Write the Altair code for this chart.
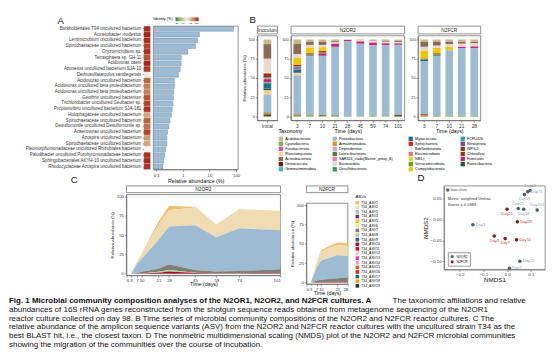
import altair as alt
import pandas as pd

FONT = "Liberation Sans"

# ---------------- Panel A data ----------------
a_names = [
    "Burkholderiales T34 uncultured bacterium",
    "Acinetobacter modestus",
    "Lentimicrobium uncultured bacterium",
    "Spirochaetaceae uncultured bacterium",
    "Oryzomicrobium sp.",
    "Tetrasphaera sp. GH-11",
    "Acidovorax caeni",
    "Azonexus uncultured bacterium SJA-10",
    "Dethiosulfatarculus sandiegensis",
    "Acidovorax uncultured bacterium",
    "Acidovorax uncultured beta proteobacterium",
    "Acidovorax uncultured beta proteobacterium",
    "Geothrix uncultured bacterium",
    "Trichlorobacter uncultured Geobacter sp.",
    "Propionivibrio uncultured bacterium SJA-181",
    "Holophagaceae uncultured bacterium",
    "Spirochaetaceae uncultured bacterium",
    "Desulfomonile uncultured Desulfomonile sp.",
    "Anaerovorax uncultured bacterium",
    "Azospira uncultured bacterium",
    "Spirochaetaceae uncultured bacterium",
    "Pleomorphomonadaceae uncultured Rhizobiales bacterium",
    "Paludibacter uncultured Porphyromonadaceae bacterium",
    "Sphingobacteriales AKYH-10 uncultured bacterium",
    "Rhodocyclaceae Azospira uncultured bacterium",
]
a_abund = [80, 4.2, 3.6, 3.0, 1.55, 0.87, 0.86, 0.8, 0.68, 0.48, 0.48, 0.46, 0.44,
           0.43, 0.40, 0.37, 0.33, 0.30, 0.27, 0.25, 0.25, 0.23, 0.21, 0.19, 0.18]
a_ident = [99.6, 99.8, 99.5, 99.0, 99.6, 98.5, 99.8, 99.3, 92.0, 98.0, 97.0, 97.0, 98.5,
           99.0, 99.5, 95.5, 98.0, 97.5, 99.0, 96.0, 95.5, 92.5, 99.5, 99.7, 99.5]

# ---------------- Panel B data ----------------
taxa = ["Acidobacteriota", "Actinobacteriota", "Armatimonadota", "Bacteroidota",
        "Bdellovibrionota", "Campylobacterota", "Chloroflexi", "Cyanobacteria",
        "Deinococcota", "Dependentiae", "Desulfobacterota", "Elusimicrobiota",
        "FCPU426", "Firmicutes", "Fusobacteriota", "Gemmatimonadota",
        "Latescibacterota", "Myxococcota", "NB1-j", "Nitrospirota", "Patescibacteria",
        "Planctomycetota", "Proteobacteria", "SAR324_clade(Marine_group_B)",
        "Spirochaetota", "Verrucomicrobiota", "WPS-2"]
taxa_colors = ["#c8b98c", "#8b6a58", "#e8901c", "#e9d8cc", "#e6efe9", "#f2c40c",
               "#a5311b", "#7cb342", "#6b1d24", "#c9a6d6", "#2e9d59", "#e8786f",
               "#2fa39a", "#d0217a", "#d94fa8", "#44b4e3", "#4f7f34", "#1c6e8c",
               "#d9d92a", "#7b3f98", "#1f5e38", "#f5cf97", "#9dbcd3", "#e57fae",
               "#e3211f", "#6f9a2a", "#6b4a1c"]

inoc_samples = ["Initial"]
inoc_values = [
    {"Acidobacteriota": 6, "Actinobacteriota": 19, "Bacteroidota": 18, "Bdellovibrionota": 1,
     "Chloroflexi": 5, "Desulfobacterota": 1, "Elusimicrobiota": 1, "FCPU426": 0.5,
     "Firmicutes": 4, "Gemmatimonadota": 1, "Latescibacterota": 1, "Myxococcota": 6,
     "Nitrospirota": 0.5, "Patescibacteria": 2, "Planctomycetota": 6, "Proteobacteria": 23,
     "Spirochaetota": 1, "Verrucomicrobiota": 2, "WPS-2": 2},
]
n2or2_days = ["3", "7", "10", "21", "28", "45", "59", "74", "101"]
n2or2_values = [
    {"Acidobacteriota": 5.5, "Actinobacteriota": 13.5, "Bacteroidota": 5, "Campylobacterota": 9,
     "Chloroflexi": 1.5, "Cyanobacteria": 0.5, "Desulfobacterota": 1, "Firmicutes": 2,
     "Gemmatimonadota": 1, "Myxococcota": 4, "Nitrospirota": 0.5, "Planctomycetota": 3,
     "Proteobacteria": 51, "Spirochaetota": 1, "Verrucomicrobiota": 1.5},
    {"Acidobacteriota": 3, "Actinobacteriota": 4, "Bacteroidota": 3.5, "Campylobacterota": 7.5,
     "Chloroflexi": 1.5, "Desulfobacterota": 1, "Latescibacterota": 1, "Proteobacteria": 77,
     "Verrucomicrobiota": 1.5},
    {"Acidobacteriota": 3, "Actinobacteriota": 4, "Bacteroidota": 3, "Campylobacterota": 5,
     "Chloroflexi": 2, "Desulfobacterota": 1, "Firmicutes": 3, "Latescibacterota": 1,
     "Proteobacteria": 76, "Verrucomicrobiota": 2},
    {"Acidobacteriota": 2, "Actinobacteriota": 1.5, "Bacteroidota": 2, "Firmicutes": 4,
     "Proteobacteria": 89, "Spirochaetota": 0.5, "Verrucomicrobiota": 1},
    {"Acidobacteriota": 0.5, "Firmicutes": 1.5, "Proteobacteria": 97.5, "Verrucomicrobiota": 0.5},
    {"Acidobacteriota": 1, "Bacteroidota": 1.5, "Firmicutes": 3, "Proteobacteria": 94,
     "Verrucomicrobiota": 0.5},
    {"Acidobacteriota": 2, "Bacteroidota": 2, "Firmicutes": 3.5, "Proteobacteria": 91.5,
     "Verrucomicrobiota": 1},
    {"Acidobacteriota": 2, "Actinobacteriota": 1, "Bacteroidota": 2, "Firmicutes": 2.5,
     "Proteobacteria": 92, "Verrucomicrobiota": 0.5},
    {"Acidobacteriota": 2, "Actinobacteriota": 1.5, "Bacteroidota": 1.5, "Firmicutes": 1.5,
     "Nitrospirota": 1, "Proteobacteria": 90.5, "WPS-2": 2},
]
n2fcr_days = ["3", "7", "10", "21", "28"]
n2fcr_values = [
    {"Acidobacteriota": 3, "Actinobacteriota": 6.5, "Bacteroidota": 5, "Campylobacterota": 10.5,
     "Chloroflexi": 1, "Desulfobacterota": 0.5, "Myxococcota": 2, "Proteobacteria": 68.5,
     "Spirochaetota": 1.5, "Verrucomicrobiota": 1.5},
    {"Acidobacteriota": 3, "Actinobacteriota": 5, "Bacteroidota": 3, "Campylobacterota": 7,
     "Chloroflexi": 1.5, "Desulfobacterota": 1.5, "Latescibacterota": 1, "Proteobacteria": 77,
     "Verrucomicrobiota": 1},
    {"Acidobacteriota": 3, "Actinobacteriota": 3, "Bacteroidota": 3.5, "Campylobacterota": 4.5,
     "Proteobacteria": 85, "Verrucomicrobiota": 1},
    {"Acidobacteriota": 3, "Actinobacteriota": 2.5, "Bacteroidota": 4, "Firmicutes": 1.5,
     "Proteobacteria": 88, "Verrucomicrobiota": 1},
    {"Acidobacteriota": 3, "Actinobacteriota": 2, "Bacteroidota": 4, "Firmicutes": 2.5,
     "Proteobacteria": 87.5, "Verrucomicrobiota": 1},
]

# ---------------- Panel C data ----------------
asvs = ["T34_ASV%d" % i for i in range(1, 20)]
asv_colors = ["#f2bf6c", "#efdcb2", "#9dbcd3", "#7b2a8a", "#f0c419", "#f3e38a", "#7f7f72",
              "#9fd3a8", "#3f4fa0", "#a3122a", "#c2143e", "#f4c7c0", "#e0449f", "#f0a3c4",
              "#d8692a", "#d12a2a", "#1d6d5e", "#e69a1e", "#1b3850"]
c_or2_days = [0, 3, 7, 10, 21, 28, 45, 59, 74, 101]
c_or2_values = {
    "T34_ASV1": [0, 0, 0, 0.5, 4, 5.5, 1, 0, 0, 0],
    "T34_ASV2": [0, 0, 3, 6, 20, 21, 23, 16.5, 25, 25.5],
    "T34_ASV3": [0, 0, 12, 17, 37, 49.5, 58, 44.5, 55.5, 50.5],
    "T34_ASV7": [0, 0, 1, 2, 4, 7, 3.5, 2.5, 3, 5],
    "T34_ASV8": [0, 0, 0, 0, 1, 2, 0.5, 0, 0, 0],
    "T34_ASV10": [0, 0, 0, 0.5, 1.5, 3, 1, 0.5, 0.5, 0.5],
    "T34_ASV13": [0, 0, 0, 0, 0, 0, 0, 0, 0, 0.5],
}
c_fcr_days = [0, 3, 7, 10, 21, 28]
c_fcr_values = {
    "T34_ASV1": [0, 0, 1, 1.5, 3.5, 3.5],
    "T34_ASV2": [0, 0, 6, 12, 13, 13],
    "T34_ASV3": [0, 0, 17, 25, 30, 28],
    "T34_ASV7": [0, 0, 2, 3, 4.5, 5.5],
    "T34_ASV10": [0, 0, 0.5, 0.5, 1, 1],
}

# ---------------- Panel D data ----------------
d_label = ["Inoculum", "Day3", "Day7", "Day10", "Day21", "Day28", "Day45", "Day59", "Day74", "Day101",
           "Day3", "Day7", "Day10", "Day21", "Day28"]
d_group = ["Inoculum"] + ["N2OR2"] * 9 + ["N2FCR"] * 5
d_x = [-0.25, -0.144, 0.01, 0.054, 0.047, 0.07, 0.097, 0.073, 0.087, 0.127,
       -0.054, -0.008, 0.04, 0.0, 0.043]
d_y = [0.07, -0.013, -0.117, -0.10, 0.026, 0.024, 0.069, 0.059, 0.066, 0.022,
       -0.04, -0.046, -0.049, 0.024, -0.006]
d_side = ["right", "right", "right", "right", "above", "below", "above", "below", "right", "above",
          "below", "below", "right", "below", "right"]

caption_bold = "Fig. 1   Microbial community composition analyses of the N2OR1, N2OR2, and N2FCR cultures. A"
caption_first_rest = "The taxonomic affiliations and relative"
caption_lines = [
    "",
    "abundances of 16S rRNA genes reconstructed from the shotgun sequence reads obtained from metagenome sequencing of the N2OR1",
    "reactor culture collected on day 98. B Time series of microbial community compositions of the N2OR2 and N2FCR reactor cultures. C The",
    "relative abundance of the amplicon sequence variants (ASV) from the N2OR2 and N2FCR reactor cultures with the uncultured strain T34 as the",
    "best BLAST hit, i.e., the closest taxon. D The nonmetric multidimensional scaling (NMDS) plot of the N2OR2 and N2FCR microbial communities",
    "showing the migration of the communities over the course of incubation.",
]

NOFRAME = alt.ViewBackground(stroke=None)


def spacer(w, h=2):
    return alt.Chart(pd.DataFrame({"v": [0]})).mark_point(opacity=0, size=1).encode(
        x=alt.value(0), y=alt.value(0)).properties(width=w, height=h, view=NOFRAME)


def panel_title(letter, dx=0, dy=0):
    return alt.TitleParams(letter, anchor="start", fontSize=10, fontWeight="normal",
                           font=FONT, dx=dx, dy=dy, offset=1, color="#111")


# ---------------- Panel A ----------------
def uniq(names):
    seen = {}
    out = []
    for n in names:
        k = seen.get(n, 0)
        out.append(n + "\u200b" * k)
        seen[n] = k + 1
    return out


a_df = pd.DataFrame({"taxon": uniq(a_names), "abund": a_abund, "ident": a_ident})
ident_scale = alt.Scale(domain=[85, 92.5, 100], range=["#2e8b3d", "#f7f4ee", "#a31b1b"])

heat = alt.Chart(a_df).mark_rect(stroke="white", strokeWidth=0.2).encode(
    y=alt.Y("taxon:N", sort=None, title=None,
            axis=alt.Axis(labelFontSize=4.6, domain=False, tickSize=1.5, labelPadding=1.5,
                          labelColor="#333", labelLimit=300)),
    color=alt.Color("ident:Q", scale=ident_scale, legend=None),
).properties(width=7, height=149, view=NOFRAME)

bar_y = alt.Y("taxon:N", sort=None, axis=None, scale=alt.Scale(paddingInner=0.18, paddingOuter=0.1))
bar_x = alt.X("abund:Q", scale=alt.Scale(type="log", domain=[0.078, 118], nice=False),
              axis=alt.Axis(values=[0.1, 1, 10, 100], format="~g", title="Relative abundance (%)",
                            labelFontSize=4.5, titleFontSize=5.5, titlePadding=2))
bars_main = alt.Chart(a_df).mark_rect(color="#9dbcd3", stroke="#5f7f99", strokeWidth=0.4).encode(
    y=bar_y, x=bar_x, x2=alt.datum(0.078))
# invisible layer that only carries the identity colour legend
bars_key = alt.Chart(a_df).mark_rect(opacity=0).encode(
    y=bar_y, x=bar_x, x2=alt.datum(0.078),
    color=alt.Color("ident:Q", scale=ident_scale,
                    legend=alt.Legend(title="Identity (%)", orient="none", legendX=0, legendY=-9,
                                      direction="horizontal", titleOrient="left",
                                      gradientLength=24, gradientThickness=4, labelFontSize=2.6,
                                      titleFontSize=4, titleFontWeight="normal", values=[85, 90, 95, 100],
                                      titlePadding=2, labelOffset=0.5, padding=0)))
bars = alt.layer(bars_main, bars_key).properties(width=88, height=149)

a_block = alt.hconcat(heat, bars, spacing=1).resolve_scale(color="independent").resolve_legend(
    color="independent").properties(title=panel_title("A", dx=34, dy=10))


# ---------------- Panel B ----------------
def header(text, width, h=8):
    return alt.Chart(pd.DataFrame({"t": [text]})).mark_text(fontSize=5, font=FONT, color="#222").encode(
        text="t:N").properties(width=width, height=h,
                               view=alt.ViewBackground(stroke="#444", strokeWidth=0.6, fill="white"))


def stack_df(samples, values):
    rows = []
    for s, v in zip(samples, values):
        for i, t in enumerate(taxa):
            val = v.get(t, 0)
            if val:
                rows.append({"sample": s, "taxon": t, "idx": i, "value": val})
    return pd.DataFrame(rows)


# taxonomy legend entries arranged column by column (7 rows x 4 columns)
tax_legend_order = [taxa[c * 7 + r] for r in range(7) for c in range(4) if c * 7 + r < len(taxa)]


def tax_legend():
    return alt.Legend(title="Taxonomy", orient="none", legendX=22, legendY=107, columns=4,
                      values=tax_legend_order, symbolType="square", symbolSize=20,
                      symbolStrokeWidth=0, labelFontSize=3.8, titleFontSize=5.5,
                      titleFontWeight="normal", rowPadding=0.3, columnPadding=16,
                      labelOffset=2, padding=0, titlePadding=2)


def b_panel(samples, values, width, ytitle, xtitle, head):
    df = stack_df(samples, values)
    plot = alt.Chart(df).mark_bar(size=8).encode(
        x=alt.X("sample:N", sort=samples, title=xtitle,
                axis=alt.Axis(labelAngle=0, labelFontSize=5, titleFontSize=5.5, titlePadding=1)),
        y=alt.Y("value:Q", stack="zero", title=ytitle,
                scale=alt.Scale(domain=[-5, 105], nice=False, zero=False),
                axis=alt.Axis(values=[0, 25, 50, 75, 100], labelFontSize=4, titleFontSize=4.5,
                              titlePadding=2)),
        color=alt.Color("taxon:N", scale=alt.Scale(domain=taxa, range=taxa_colors), legend=tax_legend()),
        order=alt.Order("idx:Q", sort="descending"),
    ).properties(width=width, height=88)
    return alt.vconcat(header(head, width), plot, spacing=0)


b_inoc = b_panel(inoc_samples, inoc_values, 21, "Relative abundance (%)", None, "Inoculum")
b_or2 = b_panel(n2or2_days, n2or2_values, 118, None, "Time (days)", "N2OR2")
b_fcr = b_panel(n2fcr_days, n2fcr_values, 65, None, "Time (days)", "N2FCR")

b_block = alt.hconcat(b_inoc, b_or2, b_fcr, spacing=3).properties(title=panel_title("B", dx=9))


# ---------------- Panel C ----------------
def area_df(days, d):
    rows = []
    for i, a in enumerate(asvs):
        if a in d:
            for day, v in zip(days, d[a]):
                rows.append({"day": day, "asv": a, "idx": i, "value": v})
    return pd.DataFrame(rows)


def c_panel(days, d, width, head, legend=None):
    df = area_df(days, d)
    plot = alt.Chart(df).mark_area(opacity=1, interpolate="linear").encode(
        x=alt.X("day:Q", title="Time (days)", scale=alt.Scale(domain=[0, days[-1]], nice=False),
                axis=alt.Axis(values=days, labelFontSize=4.5, titleFontSize=5.5, titlePadding=0,
                              labelPadding=0.5, labelOverlap=False)),
        y=alt.Y("value:Q", stack="zero", title="Relative abundance (%)",
                scale=alt.Scale(domain=[-2, 103], nice=False, zero=False),
                axis=alt.Axis(values=[0, 25, 50, 75, 100], labelFontSize=4.5, titleFontSize=4.5,
                              titlePadding=2)),
        color=alt.Color("asv:N", scale=alt.Scale(domain=asvs, range=asv_colors), legend=legend),
        order=alt.Order("idx:Q", sort="descending"),
    ).properties(width=width, height=84)
    return alt.vconcat(header(head, width, 7), plot, spacing=0).resolve_scale(
        color="independent").resolve_legend(color="independent")


asv_legend = alt.Legend(title="ASVs", orient="none", legendX=51, legendY=-9, symbolType="square",
                        symbolSize=14, labelFontSize=3.6, titleFontSize=4.5, titleFontWeight="normal",
                        rowPadding=0.8, symbolStrokeWidth=0, labelOffset=2, padding=0, titlePadding=2)
c_or2 = c_panel(c_or2_days, c_or2_values, 160, "N2OR2").properties(
    title=panel_title("C", dx=-40))
c_fcr = c_panel(c_fcr_days, c_fcr_values, 43, "N2FCR", asv_legend)

# ---------------- Panel D ----------------
d_df = pd.DataFrame({"label": d_label, "group": d_group, "x": d_x, "y": d_y, "side": d_side})
xs = alt.X("x:Q", title="NMDS1", scale=alt.Scale(domain=[-0.266, 0.16], nice=False, zero=False),
           axis=alt.Axis(values=[-0.2, -0.1, 0.0, 0.1], format=".1f", labelFontSize=4.5,
                         titleFontSize=6.5, titlePadding=0, labelPadding=0.5))
ys = alt.Y("y:Q", title="NMDS2", scale=alt.Scale(domain=[-0.12, 0.08], nice=False, zero=False),
           axis=alt.Axis(values=[-0.10, -0.05, 0.0, 0.05], format=".2f", labelFontSize=4.5,
                         titleFontSize=6.5, titlePadding=2))
d_base = alt.Chart(d_df).encode(x=xs, y=ys)
pts = d_base.mark_circle(size=14, opacity=1).encode(
    color=alt.Color("group:N", scale=alt.Scale(domain=["N2OR2", "N2FCR", "Inoculum"],
                                                range=["#4d5f6e", "#8b1c1c", "#666666"]),
                    legend=alt.Legend(title=None, values=["N2OR2", "N2FCR"], orient="bottom-left",
                                      offset=4, strokeColor="#999", padding=2, labelFontSize=3.5,
                                      symbolSize=10, rowPadding=0.5, labelOffset=2)))
lab_color = alt.Color("group:N", scale=alt.Scale(domain=["N2OR2", "N2FCR", "Inoculum"],
                                                 range=["#7f9fbd", "#d13b3b", "#555555"]), legend=None)
lab_right = d_base.mark_text(align="left", dx=3, fontSize=4.2, font=FONT).encode(
    text="label:N", color=lab_color).transform_filter(alt.datum.side == "right")
lab_above = d_base.mark_text(align="center", dy=-5, fontSize=4.2, font=FONT).encode(
    text="label:N", color=lab_color).transform_filter(alt.datum.side == "above")
lab_below = d_base.mark_text(align="center", dy=5, fontSize=4.2, font=FONT).encode(
    text="label:N", color=lab_color).transform_filter(alt.datum.side == "below")
note1 = alt.Chart().mark_text(align="left", fontSize=4.2, font=FONT, color="#333",
                              text="Metric: weighted Unifrac").encode(x=alt.value(4), y=alt.value(14))
note2 = alt.Chart().mark_text(align="left", fontSize=4.2, font=FONT, color="#333",
                              text="Stress = 0.0389").encode(x=alt.value(4), y=alt.value(20))
d_chart = alt.layer(pts, lab_right, lab_above, lab_below, note1, note2).resolve_scale(
    color="independent").properties(width=105, height=87, title=panel_title("D", dx=-5))

# ---------------- Caption ----------------
CAP_FS = 8.3
CAP_FONT = "Liberation Sans"
cap_df = pd.DataFrame({"i": list(range(len(caption_lines))), "t": caption_lines})
cap_y = alt.Y("i:O", axis=None, scale=alt.Scale(type="point", padding=0))
cap_normal = alt.Chart(cap_df).mark_text(align="left", fontSize=CAP_FS, font=CAP_FONT, color="#111").encode(
    text="t:N", x=alt.value(0), y=cap_y)
cap_first = alt.Chart(pd.DataFrame({"i": [0, 0], "t": [caption_bold, caption_first_rest],
                                    "w": ["bold", "normal"]}))
cap_b = cap_first.mark_text(align="left", fontSize=CAP_FS, font=CAP_FONT, fontWeight="bold",
                            color="#111").encode(
    text="t:N", x=alt.value(0), y=cap_y).transform_filter(alt.datum.w == "bold")
cap_r = cap_first.mark_text(align="right", fontSize=CAP_FS, font=CAP_FONT, color="#111").encode(
    text="t:N", x=alt.value(537), y=cap_y).transform_filter(alt.datum.w == "normal")
caption = alt.layer(cap_normal, cap_b, cap_r).properties(width=537, height=45, view=NOFRAME)

# ---------------- Assemble ----------------
top = alt.hconcat(spacer(16), a_block, b_block, spacing=0).resolve_scale(
    color="independent").resolve_legend(color="independent")
mid = alt.hconcat(spacer(56), c_or2, c_fcr, spacer(0), d_chart, spacing=8).resolve_scale(
    color="independent").resolve_legend(color="independent")
panels = alt.vconcat(top, mid, spacing=-13).resolve_scale(
    color="independent").resolve_legend(color="independent")
chart = alt.vconcat(panels, caption, spacing=0).resolve_scale(
    color="independent").resolve_legend(color="independent").properties(
    padding={"left": 0, "top": 0, "right": 0, "bottom": 0}, background="white"
).configure(font=FONT).configure_view(stroke="#444", strokeWidth=0.6).configure_axis(
    labelFont=FONT, titleFont=FONT, labelColor="#333", titleColor="#111", domainColor="#444",
    tickColor="#444", domainWidth=0.5, tickWidth=0.5, grid=False, labelPadding=1, tickSize=2,
    minExtent=0, titleFontWeight="normal").configure_legend(labelFont=FONT, titleFont=FONT)

chart.save("out.html", embed_options={"renderer": "svg", "actions": False})
